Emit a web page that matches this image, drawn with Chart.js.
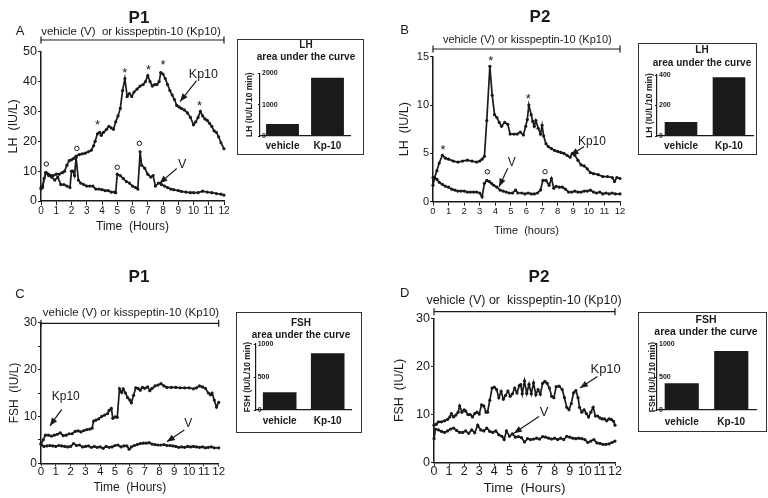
<!DOCTYPE html>
<html><head><meta charset="utf-8">
<script src="https://cdn.jsdelivr.net/npm/chart.js@4.4.0/dist/chart.umd.min.js"></script>
<style>
html,body{margin:0;padding:0;background:#fff;}
#wrap{position:relative;width:768px;height:498px;overflow:hidden;background:#fff;}
canvas{position:absolute;}
</style></head><body><div id="wrap"></div>
<script>
const FONT = '"Liberation Sans", Arial, Helvetica, sans-serif';
const INK = '#1a1a1a';

// ---- tick labels ----
const hourTicks = [0,1,2,3,4,5,6,7,8,9,10,11,12];
const yTicksA = [0,10,20,30,40,50];
const yTicksB = [0,5,10,15];
const yTicksC = [0,5,10,15,20,25,30];
const yTicksD = [0,10,20,30];
const insetCats = ['vehicle','Kp-10'];

// ---- Panel A : LH, P1 ----
const aKpT = [0,0.1,0.2,0.35,0.5,0.65,0.8,1.0,1.2,1.4,1.55,1.7,1.85,2.0,2.15,2.3,2.5,2.7,2.9,3.1,3.3,3.45,3.55,3.7,3.85,3.95,4.1,4.3,4.45,4.6,4.75,4.9,5.05,5.2,5.35,5.5,5.65,5.8,5.95,6.1,6.3,6.5,6.7,6.85,7.0,7.15,7.3,7.45,7.6,7.75,7.85,8.0,8.15,8.3,8.45,8.6,8.75,8.9,9.05,9.2,9.4,9.6,9.8,10.0,10.15,10.3,10.45,10.6,10.75,10.9,11.05,11.2,11.35,11.5,11.65,11.8,12.0];
const aKpV = [4.5,5,7.5,9.5,9,8.5,8.5,9,9,9.5,10,12,13.5,13.8,14.3,15,15.5,15.8,16,16.5,17,18.5,20,22.5,23,22,23,24,25,24.5,24,26.5,28.5,31,37,41,35,36,35,36.5,37.5,38.5,39,40,42,40,38.5,39,39,40,43,42.5,41,39,37,35.5,34,32,31.5,31,30.5,29.5,28,25.5,26.5,28,30,28.5,27.5,27,26,25,23.5,23,21.5,19.5,17.5];
const aVT = [0,0.1,0.3,0.5,0.7,0.9,1.1,1.3,1.5,1.7,1.9,2.0,2.1,2.2,2.3,2.45,2.6,2.8,3.0,3.2,3.4,3.6,3.8,4.0,4.2,4.4,4.6,4.8,4.9,5.0,5.2,5.4,5.6,5.8,6.0,6.2,6.35,6.5,6.6,6.8,7.0,7.2,7.35,7.5,7.7,7.9,8.1,8.3,8.5,8.7,9.0,9.2,9.5,9.8,10.0,10.3,10.6,10.9,11.2,11.5,11.8,12.0];
const aVV = [4,4.5,9.5,8.5,8,7,8,5.5,5.5,5,4.5,10,10,8.5,14.5,7,6,5.5,5,5,5,4,4,3.8,3.5,3.5,3,3,2.8,9,8.5,7.5,6.5,6,5,4.5,4,16.5,12,11,9,8,8.5,5,6,5.5,5,4.5,4,3.8,3.5,3.2,3,2.8,2.8,2.8,3.3,3,2.8,2.5,2.3,2];
const aStars = [[3.7,26.5],[5.5,44],[7.05,45.2],[8.0,46.6],[10.4,32.9]];
const aCircles = [[0.35,12.4],[2.35,17.6],[5.0,11.3],[6.45,19.3]];

// ---- Panel B : LH, P2 ----
const bKpT = [0,0.1,0.25,0.4,0.6,0.8,1.0,1.3,1.6,1.9,2.2,2.5,2.8,3.0,3.15,3.3,3.45,3.65,3.8,3.95,4.1,4.25,4.4,4.6,4.8,4.95,5.2,5.4,5.6,5.8,5.95,6.05,6.15,6.3,6.4,6.5,6.6,6.75,6.9,7.0,7.1,7.25,7.4,7.6,7.8,8.0,8.2,8.4,8.6,8.8,8.95,9.1,9.3,9.5,9.7,9.9,10.1,10.3,10.6,10.9,11.2,11.5,11.65,11.8,12.0];
const bKpV = [1.7,2.5,3.2,4.0,4.8,4.5,4.4,4.2,4.1,4.2,4.3,4.2,4.1,4.2,4.4,4.7,8.4,14.0,11.0,9.0,8.7,8.2,7.8,8.2,8.0,7.0,7.0,7.0,7.2,6.9,7.8,8.5,10.0,9.0,8.3,7.8,8.4,7.6,7.0,7.9,6.8,6.0,5.7,5.5,5.3,5.2,5.1,5.0,4.8,4.6,5.0,4.8,4.3,3.8,3.7,3.4,3.0,2.9,2.8,2.6,2.6,2.5,2.1,2.5,2.4];
const bVT = [0,0.1,0.25,0.4,0.6,0.8,1.0,1.2,1.4,1.6,1.8,2.0,2.2,2.4,2.6,2.8,3.0,3.15,3.3,3.45,3.6,3.75,3.9,4.1,4.3,4.5,4.7,4.9,5.1,5.3,5.45,5.7,5.9,6.1,6.3,6.5,6.7,6.9,7.05,7.25,7.45,7.6,7.75,7.9,8.1,8.3,8.5,8.7,8.9,9.1,9.3,9.5,9.7,9.9,10.1,10.3,10.5,10.7,10.9,11.1,11.3,11.5,11.7,12.0];
const bVV = [2.5,2.5,2.3,2.0,1.8,1.6,1.5,1.3,1.2,1.1,1.1,1.1,1.0,1.0,1.0,1.0,0.9,0.5,1.9,2.2,2.1,1.9,1.7,1.5,1.2,1.1,1.0,0.9,0.9,1.2,0.9,0.9,0.8,0.9,0.8,0.8,0.9,1.2,2.2,2.2,1.7,2.4,1.4,1.6,1.5,1.5,1.3,1.0,1.0,1.1,1.0,1.0,1.1,1.1,1.2,1.0,0.9,1.0,0.8,0.9,0.8,0.9,0.8,0.8];
const bStars = [[0.64,5.7],[3.7,14.9],[6.12,11]];
const bCircles = [[3.49,3.1],[7.19,3.1]];

// ---- Panel C : FSH, P1 ----
const cKpT = [0,0.15,0.3,0.5,0.7,0.9,1.1,1.3,1.5,1.7,1.9,2.1,2.3,2.5,2.7,2.9,3.1,3.3,3.45,3.55,3.7,3.9,4.1,4.3,4.5,4.6,4.75,4.85,5.0,5.15,5.3,5.45,5.55,5.7,5.85,6.0,6.1,6.25,6.4,6.55,6.7,6.85,7.0,7.2,7.35,7.5,7.7,7.9,8.1,8.3,8.5,8.8,9.1,9.4,9.7,10.0,10.3,10.5,10.7,10.9,11.1,11.3,11.45,11.55,11.7,11.85,12.0];
const cKpV = [4.2,5,6,6,5.8,6,6.2,6.5,5.9,6,6.3,6.3,6.8,6.9,6.7,7,7.2,7.3,7.5,9,9.2,9.5,10,10.3,10.6,11.3,11.7,9.6,9.9,9.8,15.9,15.1,15.9,15,14,13.5,12.9,14.5,16.1,16,15.6,16.2,16,16.3,15.5,16,16.5,16.7,17,16.5,16.2,16.2,16.2,16.1,16.1,16.1,15.9,16.1,16.5,16.3,16,15,14.6,15,13.5,12,13];
const cVT = [0,0.2,0.4,0.6,0.8,1.0,1.2,1.4,1.6,1.8,2.0,2.2,2.4,2.6,2.8,3.0,3.2,3.4,3.6,3.8,4.0,4.2,4.4,4.6,4.8,5.0,5.2,5.4,5.6,5.8,5.95,6.1,6.3,6.5,6.7,6.9,7.1,7.3,7.5,7.7,7.9,8.1,8.3,8.5,8.7,8.9,9.1,9.3,9.5,9.7,9.9,10.1,10.3,10.5,10.7,10.9,11.1,11.3,11.5,11.7,12.0];
const cVV = [4,3.6,3.7,3.8,3.7,3.6,3.8,3.7,3.6,3.5,3.6,4.2,3.8,3.9,3.5,3.6,3.7,3.4,3.6,3.4,3.5,3.2,3.6,3.4,3.5,3.8,3.9,3.5,3.7,3.7,3,3.5,3.8,4,4.2,4.3,4.3,4.4,4.1,4,3.9,3.9,4,3.8,3.8,3.7,3.6,3.4,3.5,3.4,3.6,3.5,3.6,3.5,3.4,3.5,3.3,3.4,3.5,3.3,3.3];

// ---- Panel D : FSH, P2 ----
const dKpT = [0,0.15,0.3,0.5,0.7,0.9,1.05,1.15,1.3,1.45,1.6,1.7,1.85,2.0,2.1,2.25,2.4,2.55,2.7,2.85,3.0,3.15,3.3,3.45,3.55,3.7,3.85,4.0,4.15,4.3,4.45,4.6,4.75,4.9,5.05,5.2,5.35,5.5,5.65,5.75,5.85,6.0,6.15,6.3,6.45,6.6,6.75,6.9,7.05,7.2,7.35,7.5,7.65,7.8,7.95,8.1,8.3,8.5,8.65,8.8,8.95,9.1,9.25,9.4,9.55,9.65,9.8,9.95,10.1,10.25,10.4,10.55,10.7,10.85,11.0,11.15,11.3,11.45,11.6,11.75,11.9,12.0];
const dKpV = [7.8,8,8.5,8.5,8.7,9,9.5,10.2,9.5,9.9,10.5,11.8,10.5,11,10.7,10,10,9.5,10.2,10.5,10.1,12,11.8,10.5,10.5,13,15.5,15.7,15.2,13.5,14.8,13.2,14,14.9,13.8,14.3,15.5,14.5,16,16.2,14.3,17,14.4,16.3,14.3,16.6,14.1,15.2,14.2,16.5,16.9,16.5,15.5,13.8,13.5,15.8,15.9,15.2,13.5,11.5,11,12.3,14.5,15,13.5,11.5,10.5,11,10.2,9.5,10.5,11.5,9.7,9.7,9.3,9.1,9.1,8.7,9.1,9,8.6,7.8];
const dVT = [0,0.1,0.3,0.5,0.7,0.9,1.1,1.3,1.5,1.7,1.9,2.1,2.3,2.5,2.7,2.9,3.1,3.3,3.5,3.7,3.9,4.1,4.3,4.5,4.65,4.8,5.0,5.2,5.4,5.6,5.8,6.0,6.2,6.4,6.6,6.8,7.0,7.2,7.4,7.6,7.8,8.0,8.2,8.4,8.6,8.8,9.0,9.2,9.4,9.6,9.8,10.0,10.2,10.4,10.6,10.8,11.0,11.2,11.4,11.6,11.8,12.0];
const dVV = [5,7,6.8,6.5,6.3,6.6,7,7.2,6.7,6.3,6.3,6.6,6.1,6.8,6.2,7.8,6.8,6.6,7.2,6.5,6.3,6.6,5.8,5.5,4.8,6.6,5.5,6,5.3,5.4,5.2,4.3,5,4.8,4.9,5.1,4.9,5.4,5.3,5.1,4.9,5.1,4.8,5.1,4.8,5.5,5.3,5.1,5,5.1,5,4.8,4.2,4.5,4.8,4.1,4,3.8,3.8,3.9,4.2,4.5];

// ---- insets: area under the curve ----
const aucA = [383, 1860];
const aucB = [92, 385];
const aucC = [268, 859];
const aucD = [404, 894];
const aucTicksA = [0,1000,2000];
const aucTicksB = [0,200,400];
const aucTicksC = [0,500,1000];
const aucTicksD = [0,500,1000];

function pts(t, v) { return t.map((x, i) => ({x: x, y: v[i]})); }

function addCanvas(l, t, w, h) {
  const c = document.createElement('canvas');
  c.width = w; c.height = h;
  c.style.left = l + 'px'; c.style.top = t + 'px';
  c.style.width = w + 'px'; c.style.height = h + 'px';
  document.getElementById('wrap').appendChild(c);
  return c;
}

function arrow(ctx, x1, y1, x2, y2) {
  ctx.lineWidth = 1.2;
  ctx.beginPath(); ctx.moveTo(x1, y1); ctx.lineTo(x2, y2); ctx.stroke();
  const a = Math.atan2(y2 - y1, x2 - x1), L = 8, W = 3.2;
  ctx.beginPath();
  ctx.moveTo(x2, y2);
  ctx.lineTo(x2 - L * Math.cos(a) + W * Math.sin(a), y2 - L * Math.sin(a) - W * Math.cos(a));
  ctx.lineTo(x2 - L * Math.cos(a) - W * Math.sin(a), y2 - L * Math.sin(a) + W * Math.cos(a));
  ctx.closePath(); ctx.fill();
}

function mainPanel(p) {
  const c = addCanvas(p.cl, p.ct, p.cw, p.ch);
  const padTop = p.area.t - p.ct, yW = p.area.l - p.cl;
  const padRight = p.cl + p.cw - p.area.r, xH = p.ct + p.ch - p.area.b;
  const annot = {
    id: 'annot',
    afterDraw(chart) {
      const ctx = chart.ctx, xs = chart.scales.x, ys = chart.scales.y;
      const X = v => xs.getPixelForValue(v), Y = v => ys.getPixelForValue(v);
      ctx.save();
      ctx.fillStyle = INK; ctx.strokeStyle = INK;
      ctx.textAlign = 'center'; ctx.textBaseline = 'middle';
      ctx.font = 'bold 17px ' + FONT;
      ctx.fillText(p.title, p.titleX - p.cl, p.titleY - p.ct);
      ctx.font = '13px ' + FONT;
      ctx.fillText(p.letter, p.letterX - p.cl, p.letterY - p.ct);
      const by = p.bracketY - p.ct;
      ctx.lineWidth = 1.2;
      ctx.beginPath();
      ctx.moveTo(X(0), by); ctx.lineTo(X(12), by);
      ctx.moveTo(X(0), by - 3.5); ctx.lineTo(X(0), by + 3.5);
      ctx.moveTo(X(12), by - 3.5); ctx.lineTo(X(12), by + 3.5);
      ctx.stroke();
      ctx.font = p.bracketFont + 'px ' + FONT;
      ctx.fillText(p.bracketText, p.bracketTextX - p.cl, p.bracketTextY - p.ct);
      ctx.font = '13px ' + FONT; ctx.textBaseline = 'alphabetic';
      (p.stars || []).forEach(s => ctx.fillText('*', X(s[0]), Y(s[1]) + 7.5));
      ctx.textBaseline = 'middle';
      ctx.lineWidth = 1;
      (p.circles || []).forEach(s => { ctx.beginPath(); ctx.arc(X(s[0]), Y(s[1]), 2.2, 0, 2 * Math.PI); ctx.stroke(); });
      ctx.font = p.labelFont + 'px ' + FONT;
      p.labels.forEach(l => ctx.fillText(l.text, X(l.x), Y(l.y)));
      p.arrows.forEach(a => arrow(ctx, X(a[0]), Y(a[1]), X(a[2]), Y(a[3])));
      ctx.restore();
    }
  };
  const ds = (d) => ({data: d, borderColor: INK, backgroundColor: INK, borderWidth: 1.7,
    pointRadius: 1.6, pointBorderWidth: 0, pointBackgroundColor: INK, tension: 0, clip: false});
  new Chart(c, {
    type: 'line',
    data: {datasets: [ds(pts(p.kpT, p.kpV)), ds(pts(p.vT, p.vV))]},
    options: {
      responsive: false, animation: false, devicePixelRatio: 1,
      layout: {padding: {top: padTop, right: padRight, left: 0, bottom: 0}},
      plugins: {legend: {display: false}, tooltip: {enabled: false}},
      scales: {
        x: {
          type: 'linear', min: 0, max: 12,
          afterBuildTicks: s => { s.ticks = hourTicks.map(v => ({value: v})); },
          afterFit: s => { s.height = xH; },
          grid: {display: true, drawOnChartArea: false, drawTicks: true, tickLength: p.xTickLen, color: INK, lineWidth: 1},
          border: {display: true, color: INK, width: 1.5},
          ticks: {color: INK, font: {family: FONT, size: p.xTickSize, lineHeight: 1}, padding: p.xTickPad, maxRotation: 0, autoSkip: false,
                  callback: v => String(v)},
          title: {display: true, text: p.xTitle, color: INK, font: {family: FONT, size: p.xTitleSize, lineHeight: 1.2}, padding: {top: 0, bottom: p.xTitlePad}}
        },
        y: {
          min: 0, max: p.yMax,
          afterBuildTicks: s => { s.ticks = p.yTicks.map(v => ({value: v})); },
          afterFit: s => { s.width = yW; },
          grid: {display: true, drawOnChartArea: false, drawTicks: true, tickLength: 3, color: INK, lineWidth: 1},
          border: {display: true, color: INK, width: 1.5},
          ticks: {color: INK, font: {family: FONT, size: p.yTickSize, lineHeight: 1}, padding: 1,
                  callback: v => (p.yLabelEvery ? (v % p.yLabelEvery === 0 ? String(v) : '') : String(v))},
          title: {display: true, text: p.yTitle, color: INK, font: {family: FONT, size: p.yTitleSize, lineHeight: 1.2}, padding: {top: p.yTitlePad, bottom: 0}}
        }
      }
    },
    plugins: [annot]
  });
}

function inset(p) {
  const c = addCanvas(p.box.l, p.box.t, p.box.r - p.box.l, p.box.b - p.box.t);
  const padTop = p.area.t - p.box.t, yW = p.area.l - p.box.l;
  const padRight = p.box.r - p.area.r, xH = p.box.b - p.area.b;
  const deco = {
    id: 'deco',
    afterDraw(chart) {
      const ctx = chart.ctx;
      ctx.save();
      ctx.strokeStyle = '#333'; ctx.lineWidth = 1;
      ctx.strokeRect(0.5, 0.5, chart.width - 1, chart.height - 1);
      ctx.fillStyle = INK; ctx.textAlign = 'center'; ctx.textBaseline = 'middle';
      ctx.font = 'bold ' + p.headSize + 'px ' + FONT;
      ctx.fillText(p.head, p.headX - p.box.l, p.headY - p.box.t);
      ctx.fillText('area under the curve', p.headX - p.box.l, p.subY - p.box.t);
      ctx.restore();
    }
  };
  new Chart(c, {
    type: 'bar',
    data: {labels: insetCats, datasets: [{data: p.values, backgroundColor: INK, borderWidth: 0,
      barPercentage: p.bp, categoryPercentage: 1}]},
    options: {
      responsive: false, animation: false, devicePixelRatio: 1,
      layout: {padding: {top: padTop, right: padRight, left: 0, bottom: 0}},
      plugins: {legend: {display: false}, tooltip: {enabled: false}},
      scales: {
        x: {
          afterFit: s => { s.height = xH; },
          grid: {display: false, drawTicks: false},
          border: {display: true, color: INK, width: 1.2},
          ticks: {color: INK, font: {family: FONT, size: 10, weight: 'bold', lineHeight: 1}, padding: p.xPad}
        },
        y: {
          min: 0, max: p.yMax,
          afterBuildTicks: s => { s.ticks = p.yTicks.map(v => ({value: v})); },
          afterFit: s => { s.width = yW; },
          grid: {display: true, drawOnChartArea: false, drawTicks: true, tickLength: 2, color: INK},
          border: {display: true, color: INK, width: 1.2},
          ticks: {mirror: true, padding: 2, color: INK, font: {family: FONT, size: 7, weight: 'bold', lineHeight: 1},
                  callback: v => String(v)},
          title: {display: true, text: p.yTitle, color: INK, font: {family: FONT, size: 8.5, weight: 'bold', lineHeight: 1.2}, padding: {top: p.yTitlePad, bottom: 0}}
        }
      }
    },
    plugins: [deco]
  });
}

// ---------- main panels ----------
mainPanel({
  cl: 0, ct: 0, cw: 236, ch: 240, area: {l: 41, r: 224, t: 51.7, b: 201},
  kpT: aKpT, kpV: aKpV, vT: aVT, vV: aVV, yMax: 50, yTicks: yTicksA,
  title: 'P1', titleX: 139, titleY: 18, letter: 'A', letterX: 20, letterY: 31,
  bracketY: 40, bracketText: 'vehicle (V)  or kisspeptin-10 (Kp10)', bracketFont: 11.5, bracketTextX: 131, bracketTextY: 31.5,
  xTickSize: 10, xTickLen: 4, xTickPad: 1.7, xTitle: 'Time  (Hours)', xTitleSize: 12, xTitlePad: 6,
  yTickSize: 12.5, yTitle: 'LH  (IU/L)', yTitleSize: 12.5, yTitlePad: 6.5,
  stars: aStars, circles: aCircles, labelFont: 12.5,
  labels: [{text: 'Kp10', x: 10.65, y: 42.2}, {text: 'V', x: 9.25, y: 12.1}],
  arrows: [[10.2, 40.3, 9.12, 33.3], [8.9, 10.9, 7.77, 5.9]]
});

mainPanel({
  cl: 384, ct: 0, cw: 250, ch: 240, area: {l: 433, r: 620, t: 56.7, b: 201.7},
  kpT: bKpT, kpV: bKpV, vT: bVT, vV: bVV, yMax: 15, yTicks: yTicksB,
  title: 'P2', titleX: 540, titleY: 17, letter: 'B', letterX: 404.7, letterY: 30.7,
  bracketY: 49, bracketText: 'vehicle (V) or kisspeptin-10 (Kp10)', bracketFont: 11, bracketTextX: 527.3, bracketTextY: 40,
  xTickSize: 9.5, xTickLen: 4, xTickPad: 1.2, xTitle: 'Time  (hours)', xTitleSize: 11, xTitlePad: 2.7,
  yTickSize: 11, yTitle: 'LH  (IU/L)', yTitleSize: 12.5, yTitlePad: 13,
  stars: bStars, circles: bCircles, labelFont: 12,
  labels: [{text: 'Kp10', x: 10.2, y: 6.2}, {text: 'V', x: 5.05, y: 4.0}],
  arrows: [[9.7, 5.7, 8.83, 4.8], [4.8, 3.45, 4.24, 1.55]]
});

mainPanel({
  cl: 0, ct: 250, cw: 236, ch: 248, area: {l: 41, r: 218.7, t: 322.7, b: 463.3},
  kpT: cKpT, kpV: cKpV, vT: cVT, vV: cVV, yMax: 30, yTicks: yTicksC, yLabelEvery: 10,
  title: 'P1', titleX: 139, titleY: 277, letter: 'C', letterX: 20, letterY: 294,
  bracketY: 323.3, bracketText: 'vehicle (V) or kisspeptin-10 (Kp10)', bracketFont: 11.5, bracketTextX: 131, bracketTextY: 312.7,
  xTickSize: 11.5, xTickLen: 3, xTickPad: 0, xTitle: 'Time  (Hours)', xTitleSize: 12, xTitlePad: 3.5,
  yTickSize: 12, yTitle: 'FSH  (IU/L)', yTitleSize: 12, yTitlePad: 7.8,
  labelFont: 12,
  labels: [{text: 'Kp10', x: 1.67, y: 14.2}, {text: 'V', x: 9.95, y: 8.5}],
  arrows: [[1.4, 11.5, 0.6, 8.0], [9.68, 7.1, 8.5, 4.6]]
});

mainPanel({
  cl: 384, ct: 250, cw: 250, ch: 248, area: {l: 434, r: 615, t: 318.3, b: 462.7},
  kpT: dKpT, kpV: dKpV, vT: dVT, vV: dVV, yMax: 30, yTicks: yTicksD,
  title: 'P2', titleX: 539, titleY: 277.3, letter: 'D', letterX: 404.7, letterY: 293.3,
  bracketY: 311.7, bracketText: 'vehicle (V) or  kisspeptin-10 (Kp10)', bracketFont: 12.5, bracketTextX: 524, bracketTextY: 300.7,
  xTickSize: 12.5, xTickLen: 3, xTickPad: 0, xTitle: 'Time  (Hours)', xTitleSize: 13.5, xTitlePad: 2,
  yTickSize: 12.5, yTitle: 'FSH  (IU/L)', yTitleSize: 12.5, yTitlePad: 8.5,
  labelFont: 13,
  labels: [{text: 'Kp10', x: 11.38, y: 19.3}, {text: 'V', x: 7.3, y: 10.4}],
  arrows: [[10.83, 17.9, 9.68, 15.5], [6.96, 9.6, 5.3, 6.1]]
});

// ---------- insets ----------
inset({box: {l: 237, t: 39, r: 364, b: 155}, area: {l: 260, r: 350, t: 73.3, b: 136},
  values: aucA, yMax: 2000, yTicks: aucTicksA, bp: 0.73, xPad: 5,
  head: 'LH', headSize: 10, headX: 306, headY: 45.5, subY: 57,
  yTitle: 'LH (IU/L/10 min)', yTitlePad: 7.8});
inset({box: {l: 638, t: 43, r: 757, b: 155}, area: {l: 657, r: 753, t: 75, b: 136},
  values: aucB, yMax: 400, yTicks: aucTicksB, bp: 0.68, xPad: 5,
  head: 'LH', headSize: 10, headX: 702, headY: 50.5, subY: 63,
  yTitle: 'LH (IU/L/10 min)', yTitlePad: 6.2});
inset({box: {l: 236, t: 312, r: 362, b: 433}, area: {l: 255.7, r: 351.7, t: 344, b: 410},
  values: aucC, yMax: 1000, yTicks: aucTicksC, bp: 0.7, xPad: 6,
  head: 'FSH', headSize: 10, headX: 301, headY: 323, subY: 335,
  yTitle: 'FSH (IU/L/10 min)', yTitlePad: 6.7});
inset({box: {l: 638, t: 312, r: 767, b: 432}, area: {l: 657, r: 756, t: 344, b: 410},
  values: aucD, yMax: 1000, yTicks: aucTicksD, bp: 0.69, xPad: 7,
  head: 'FSH', headSize: 10.5, headX: 706, headY: 320.5, subY: 332,
  yTitle: 'FSH (IU/L/10 min)', yTitlePad: 9.5});
</script></body></html>
